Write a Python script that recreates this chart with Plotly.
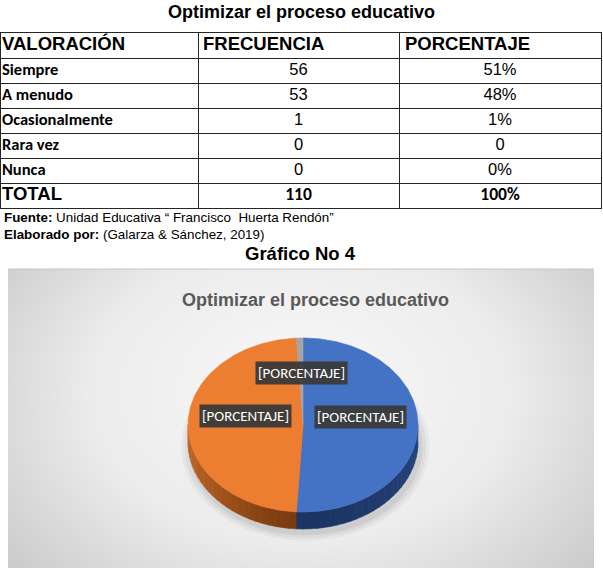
import base64
import numpy as np
import plotly.graph_objects as go

W, H = 603, 568

# ---------------- data ----------------
table_title = "Optimizar el proceso educativo"
headers = ["VALORACIÓN", "FRECUENCIA", "PORCENTAJE"]
categories = ["Siempre", "A menudo", "Ocasionalmente", "Rara vez", "Nunca"]
frequencies = [56, 53, 1, 0, 0]
percent_labels = ["51%", "48%", "1%", "0", "0%"]
total_label = "TOTAL"
total_freq = 110
total_pct = "100%"
column_widths = [197, 201, 202]
source_note = "<b>Fuente:</b> Unidad Educativa “ Francisco  Huerta Rendón”"
author_note = "<b>Elaborado por:</b> (Galarza & Sánchez, 2019)"
figure_caption = "Gráfico No 4"
chart_title = "Optimizar el proceso educativo"
data_label_text = "[PORCENTAJE]"
slice_colors = ["#4472c4", "#ed7d31", "#a5a5a5", "#ffc000", "#5b9bd5"]
side_dark = ["#1c3461", "#7a3a10", "#5a5a5a", "#806000", "#2e5a80"]
side_light = ["#22407a", "#bb6424", "#8a8a8a", "#c09000", "#4a80b0"]

# ---------------- helpers ----------------
def px_x(p):
    return p / W

def px_y(p):
    return 1 - p / H

CALIBRI = "Carlito, Lato, 'Open Sans', sans-serif"
ARIAL = "Arial, 'Liberation Sans', sans-serif"

fig = go.Figure()

# ---------------- table (drawn on its own axes) ----------------
n = len(categories)
n_rows = n + 2                       # header + categories + total
col_edges = np.concatenate([[0], np.cumsum(column_widths)])
col_left = col_edges[:-1]
col_mid = 0.5 * (col_edges[:-1] + col_edges[1:])
pads = [1, 5, 6]
rows = np.arange(n_rows)
body_rows = rows[1:]

# header row
fig.add_trace(go.Scatter(
    x=col_left + np.array(pads), y=[0, 0, 0], mode="text",
    text=[f"<b>{h}</b>" for h in headers], textposition="middle right",
    textfont=dict(family=ARIAL, size=18.5, color="black"),
    hoverinfo="skip", showlegend=False, xaxis="x2", yaxis="y2"))

# first column
fig.add_trace(go.Scatter(
    x=[col_left[0] + pads[0]] * (n + 1), y=body_rows, mode="text",
    text=[f"<b>{c}</b>" for c in categories] + [f"<b>{total_label}</b>"],
    textposition="middle right",
    textfont=dict(family=[CALIBRI] * n + [ARIAL], size=[16.5] * n + [18.5],
                  color="black"),
    hoverinfo="skip", showlegend=False, xaxis="x2", yaxis="y2"))

# frequency column
fig.add_trace(go.Scatter(
    x=[col_mid[1]] * (n + 1), y=body_rows, mode="text",
    text=[str(f) for f in frequencies] + [f"<b>{total_freq}</b>"],
    textposition="middle center",
    textfont=dict(family=[ARIAL] * n + [CALIBRI], size=[16.5] * n + [17.5],
                  color="black"),
    hoverinfo="skip", showlegend=False, xaxis="x2", yaxis="y2"))

# percentage column
fig.add_trace(go.Scatter(
    x=[col_mid[2]] * (n + 1), y=body_rows, mode="text",
    text=list(percent_labels) + [f"<b>{total_pct}</b>"],
    textposition="middle center",
    textfont=dict(family=[ARIAL] * n + [CALIBRI], size=[16.5] * n + [17.5],
                  color="black"),
    hoverinfo="skip", showlegend=False, xaxis="x2", yaxis="y2"))

grid_col = "#262626"
tbl_x0, tbl_x1, tbl_y0, tbl_y1 = 1, 601, 33, 208

# ---------------- 3D pie (drawn from values) ----------------
U = 115.0               # pixels per unit
cx_px, cy_px = 303, 425
rx, ry, depth = 1.0, 87 / U, 17 / U
box_l, box_r, box_t, box_b = 8, 594, 269, 568

total = sum(frequencies)
fracs = np.array(frequencies, dtype=float) / total
ends = np.cumsum(fracs) * 2 * np.pi
starts = ends - fracs * 2 * np.pi

def ell(phi, dy=0.0):
    return rx * np.sin(phi), ry * np.cos(phi) - dy

# soft shadow
for k, a in [(1.08, 0.035), (1.05, 0.045), (1.02, 0.06)]:
    t = np.linspace(0, 2 * np.pi, 120)
    fig.add_trace(go.Scatter(
        x=rx * k * np.sin(t) + 0.02, y=ry * k * np.cos(t) - depth - 0.04,
        fill="toself", mode="lines", line=dict(width=0),
        fillcolor=f"rgba(0,0,0,{a})", hoverinfo="skip", showlegend=False,
        xaxis="x", yaxis="y"))

def hex2rgb(h):
    h = h.lstrip("#")
    return np.array([int(h[i:i + 2], 16) for i in (0, 2, 4)], dtype=float)

# sides (front half: phi between pi/2 and 3pi/2)
for i, (s, e) in enumerate(zip(starts, ends)):
    if fracs[i] == 0:
        continue
    a0, a1 = max(s, np.pi / 2), min(e, 3 * np.pi / 2)
    if a1 <= a0:
        continue
    nseg = max(2, int((a1 - a0) / 0.06))
    edges = np.linspace(a0, a1, nseg + 1)
    dark, light = hex2rgb(side_dark[i]), hex2rgb(side_light[i])
    for j in range(nseg):
        b0, b1 = edges[j], edges[j + 1]
        mid = 0.5 * (b0 + b1)
        w = abs(np.sin(mid)) ** 1.5
        c = dark + (light - dark) * w
        col = f"rgb({int(c[0])},{int(c[1])},{int(c[2])})"
        t = np.linspace(b0, b1 + 0.004, 6)
        xt, yt = ell(t)
        xb, yb = ell(t[::-1], depth)
        fig.add_trace(go.Scatter(
            x=np.concatenate([xt, xb]), y=np.concatenate([yt, yb]),
            fill="toself", mode="lines", line=dict(width=0.6, color=col),
            fillcolor=col, hoverinfo="skip", showlegend=False,
            xaxis="x", yaxis="y"))

# top faces
for i, (s, e) in enumerate(zip(starts, ends)):
    if fracs[i] == 0:
        continue
    t = np.linspace(s, e, max(3, int((e - s) / 0.02)))
    xt, yt = ell(t)
    fig.add_trace(go.Scatter(
        x=np.concatenate([[0], xt, [0]]), y=np.concatenate([[0], yt, [0]]),
        fill="toself", mode="lines", line=dict(width=0.6, color=slice_colors[i]),
        fillcolor=slice_colors[i], name=categories[i],
        hoverinfo="name", showlegend=False, xaxis="x", yaxis="y"))

# data labels
lift = 9 / U
for i, (s, e) in enumerate(zip(starts, ends)):
    if fracs[i] == 0:
        continue
    mid = 0.5 * (s + e)
    lx = 0.5 * rx * np.sin(mid)
    ly = 0.5 * ry * np.cos(mid) + lift
    fig.add_annotation(
        x=lx, y=ly, xref="x", yref="y", text=data_label_text, showarrow=False,
        font=dict(family=CALIBRI, size=15, color="white"),
        bgcolor="rgba(58,58,58,0.95)", borderpad=2,
        xanchor="center", yanchor="middle")

# ---------------- background gradient for chart box ----------------
svg = (
    '<svg xmlns="http://www.w3.org/2000/svg" width="586" height="299" '
    'preserveAspectRatio="none" viewBox="0 0 586 299">'
    '<defs><radialGradient id="g" cx="50%" cy="45%" r="65%" fx="50%" fy="40%" '
    'gradientTransform="translate(0.5,0.45) scale(1,1.4) translate(-0.5,-0.45)">'
    '<stop offset="0%" stop-color="#f8f8f8"/>'
    '<stop offset="55%" stop-color="#ececec"/>'
    '<stop offset="100%" stop-color="#c9c9c9"/>'
    '</radialGradient></defs>'
    '<rect width="586" height="299" fill="url(#g)"/></svg>'
)
src = "data:image/svg+xml;base64," + base64.b64encode(svg.encode()).decode()
fig.add_layout_image(dict(
    source=src, xref="paper", yref="paper",
    x=px_x(box_l), y=px_y(box_t), sizex=px_x(box_r) - px_x(box_l),
    sizey=px_y(box_t) - px_y(box_b), sizing="stretch", layer="below",
    xanchor="left", yanchor="top"))
fig.add_shape(type="line", xref="paper", yref="paper",
              x0=px_x(box_l), x1=px_x(box_r), y0=px_y(box_t), y1=px_y(box_t),
              line=dict(color="#c4c4c4", width=1))

# ---------------- texts ----------------
fig.add_annotation(text=f"<b>{table_title}</b>", x=px_x(301), y=px_y(12),
                   xref="paper", yref="paper", showarrow=False,
                   font=dict(family=ARIAL, size=18, color="black"),
                   xanchor="center", yanchor="middle")
fig.add_annotation(text=source_note, x=px_x(2), y=px_y(217),
                   xref="paper", yref="paper", showarrow=False,
                   font=dict(family=ARIAL, size=13.4, color="black"),
                   xanchor="left", yanchor="middle")
fig.add_annotation(text=author_note, x=px_x(2), y=px_y(234),
                   xref="paper", yref="paper", showarrow=False,
                   font=dict(family=ARIAL, size=13.4, color="black"),
                   xanchor="left", yanchor="middle")
fig.add_annotation(text=f"<b>{figure_caption}</b>", x=px_x(300), y=px_y(253),
                   xref="paper", yref="paper", showarrow=False,
                   font=dict(family=ARIAL, size=18.5, color="black"),
                   xanchor="center", yanchor="middle")
fig.add_annotation(text=f"<b>{chart_title}</b>", x=px_x(316), y=px_y(300),
                   xref="paper", yref="paper", showarrow=False,
                   font=dict(family=ARIAL, size=18, color="#595959"),
                   xanchor="center", yanchor="middle")

# ---------------- layout ----------------
fig.update_layout(
    width=W, height=H, margin=dict(l=0, r=0, t=0, b=0),
    paper_bgcolor="white", plot_bgcolor="rgba(0,0,0,0)",
    showlegend=False,
    xaxis=dict(domain=[px_x(box_l), px_x(box_r)],
               range=[(box_l - cx_px) / U, (box_r - cx_px) / U],
               visible=False, fixedrange=True),
    yaxis=dict(domain=[px_y(box_b), px_y(box_t)],
               range=[-(box_b - cy_px) / U, (cy_px - box_t) / U],
               visible=False, fixedrange=True),
    xaxis2=dict(domain=[px_x(tbl_x0), px_x(tbl_x1)],
                range=[0, col_edges[-1]], anchor="y2",
                tickvals=col_edges[1:-1], showgrid=True, gridcolor=grid_col,
                gridwidth=1.2, showticklabels=False, ticks="", zeroline=False,
                showline=True, mirror=True, linecolor=grid_col, linewidth=1.2,
                fixedrange=True),
    yaxis2=dict(domain=[px_y(tbl_y1), px_y(tbl_y0)],
                range=[n_rows - 0.5, -0.5], anchor="x2",
                tickvals=np.arange(0.5, n_rows - 0.5, 1.0), showgrid=True,
                gridcolor=grid_col, gridwidth=1.2, showticklabels=False, ticks="",
                zeroline=False, showline=True, mirror=True, linecolor=grid_col,
                linewidth=1.2, fixedrange=True),
)

fig.write_html("out.html")
